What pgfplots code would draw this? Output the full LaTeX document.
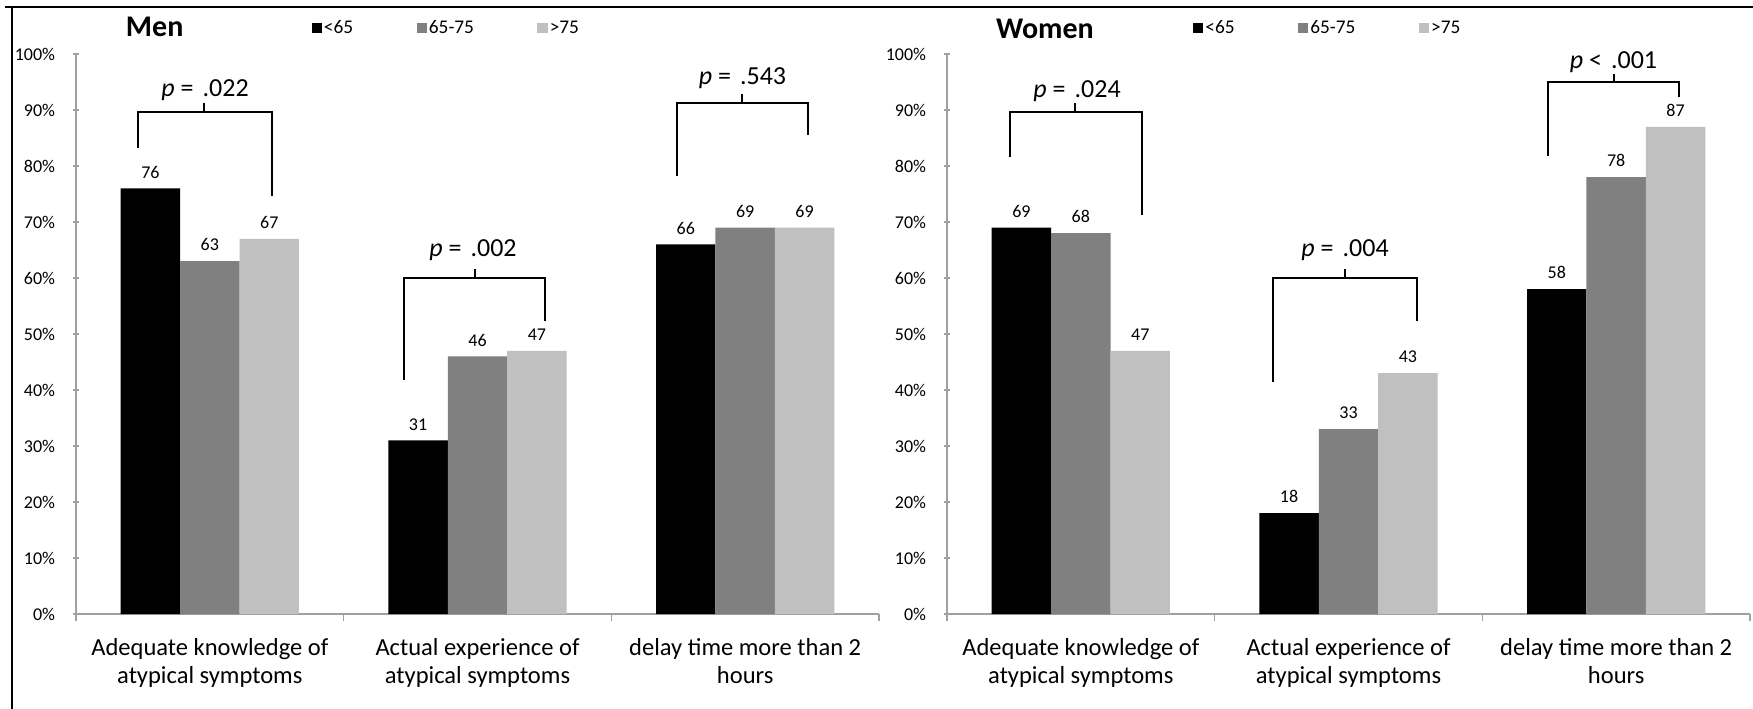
\documentclass[border=0pt]{standalone}
\usepackage{fontspec}
\setmainfont{Carlito}
\usepackage{pgfplots}
\pgfplotsset{compat=1.18}
\definecolor{barA}{RGB}{0,0,0}
\definecolor{barB}{RGB}{128,128,128}
\definecolor{barC}{RGB}{192,192,192}
\definecolor{axgray}{RGB}{160,160,160}

\tikzset{
  brk/.style={line width=1.5pt, black},
  plab/.style={font=\fontsize{19.5}{22}\selectfont},
}
\pgfplotsset{
  mybars/.style={
    scale only axis, width=602.25pt, height=420pt,
    anchor=south west,
    ymin=0, ymax=100, xmin=-0.5, xmax=2.5,
    axis lines=left,
    axis line style={-, draw=axgray, line width=0.9pt},
    /pgf/number format/assume math mode=true,
    ytick={0,10,...,100},
    yticklabels={0\%,10\%,20\%,30\%,40\%,50\%,60\%,70\%,80\%,90\%,100\%},
    yticklabel style={font=\fontsize{13.5}{16}\selectfont, inner sep=0pt, xshift=-13.5pt},
    major tick length=4pt,
    tick style={draw=axgray, line width=0.9pt},
    xtick={0,1,2},
    major x tick style={draw=none},
    minor xtick={-0.5,0.5,1.5,2.5},
    minor tick length=5.5pt,
    xticklabels={{Adequate knowledge of\\atypical symptoms},{Actual experience of\\atypical symptoms},{delay time more than 2\\hours}},
    xticklabel style={font=\fontsize{18.4}{21}\selectfont, align=center, inner sep=0pt, anchor=north, yshift=-14pt},
    ybar, bar width=0.222,
    nodes near coords,
    every node near coord/.append style={font=\fontsize{13.5}{16}\selectfont, inner sep=0pt, anchor=south, yshift=7.5pt},
    clip=false,
    legend columns=3,
    legend style={draw=none, fill=none, inner sep=0pt, font=\fontsize{14.5}{17}\selectfont,
      /tikz/every odd column/.append style={column sep=0pt},
      /tikz/every even column/.append style={column sep=46pt},
      nodes={inner sep=1.5pt}},
    legend image code/.code={\fill[##1] (0pt,-3.9pt) rectangle (7.8pt,3.9pt);},
  },
  pA/.style={fill=barA, draw=none, bar shift=-0.222},
  pB/.style={fill=barB, draw=none, bar shift=0},
  pC/.style={fill=barC, draw=none, bar shift=0.222},
}

\begin{document}
\begin{tikzpicture}
\useasboundingbox (0pt,0pt) rectangle (1314.75pt,-531.75pt);
\fill[white] (0pt,0pt) rectangle (1314.75pt,-531.75pt);
\draw[line width=1.5pt] (3.5pt,-4.9pt) -- (1314.75pt,-4.9pt);
\draw[line width=1.5pt] (9.2pt,-4.2pt) -- (9.2pt,-531.75pt);

% ---------------- Men ----------------
\begin{axis}[mybars, at={(57pt,-460.5pt)},
  legend style={at={(rel axis cs:0.293,1.0464)}, anchor=west}]
\addplot[pA] coordinates {(0,76) (1,31) (2,66)};
\addplot[pB] coordinates {(0,63) (1,46) (2,69)};
\addplot[pC] coordinates {(0,67) (1,47) (2,69)};
\legend{<65, 65-75, >75}
\node[font=\bfseries\fontsize{22.5}{26}\selectfont] at (rel axis cs:0.098,1.048) {Men};
% brackets
\draw[brk] (axis cs:-0.270,83.3) -- (axis cs:-0.270,89.7) -- (axis cs:0.231,89.7) -- (axis cs:0.231,74.6);
\draw[brk] (axis cs:-0.02,89.7) -- (axis cs:-0.02,91.3);
\node[plab] at (axis cs:-0.018,93.6) {\textit{p} =\hspace{0.35em}.022};
\draw[brk] (axis cs:0.724,41.7) -- (axis cs:0.724,60) -- (axis cs:1.254,60) -- (axis cs:1.254,52.3);
\draw[brk] (axis cs:0.989,60) -- (axis cs:0.989,61.6);
\node[plab] at (axis cs:0.983,65.0) {\textit{p} =\hspace{0.35em}.002};
\draw[brk] (axis cs:1.747,78.2) -- (axis cs:1.747,91.3) -- (axis cs:2.234,91.3) -- (axis cs:2.234,85.6);
\draw[brk] (axis cs:1.99,91.3) -- (axis cs:1.99,92.9);
\node[plab] at (axis cs:1.99,95.6) {\textit{p} =\hspace{0.35em}.543};
\end{axis}

% ---------------- Women ----------------
\begin{axis}[mybars, at={(710.25pt,-460.5pt)},
  legend style={at={(rel axis cs:0.306,1.0464)}, anchor=west}]
\addplot[pA] coordinates {(0,69) (1,18) (2,58)};
\addplot[pB] coordinates {(0,68) (1,33) (2,78)};
\addplot[pC] coordinates {(0,47) (1,43) (2,87)};
\legend{<65, 65-75, >75}
\node[font=\bfseries\fontsize{22.5}{26}\selectfont] at (rel axis cs:0.122,1.045) {Women};
\draw[brk] (axis cs:-0.266,81.6) -- (axis cs:-0.266,89.6) -- (axis cs:0.227,89.6) -- (axis cs:0.227,71.3);
\draw[brk] (axis cs:-0.02,89.6) -- (axis cs:-0.02,91.2);
\node[plab] at (axis cs:-0.014,93.4) {\textit{p} =\hspace{0.35em}.024};
\draw[brk] (axis cs:0.718,41.5) -- (axis cs:0.718,60) -- (axis cs:1.254,60) -- (axis cs:1.254,52.3);
\draw[brk] (axis cs:0.986,60) -- (axis cs:0.986,61.6);
\node[plab] at (axis cs:0.987,65.0) {\textit{p} =\hspace{0.35em}.004};
\draw[brk] (axis cs:1.747,81.8) -- (axis cs:1.747,95.05) -- (axis cs:2.234,95.05) -- (axis cs:2.234,92.4);
\draw[brk] (axis cs:1.993,95.05) -- (axis cs:1.993,96.5);
\node[plab] at (axis cs:1.99,98.6) {\textit{p} <\hspace{0.35em}.001};
\end{axis}
\end{tikzpicture}
\end{document}
